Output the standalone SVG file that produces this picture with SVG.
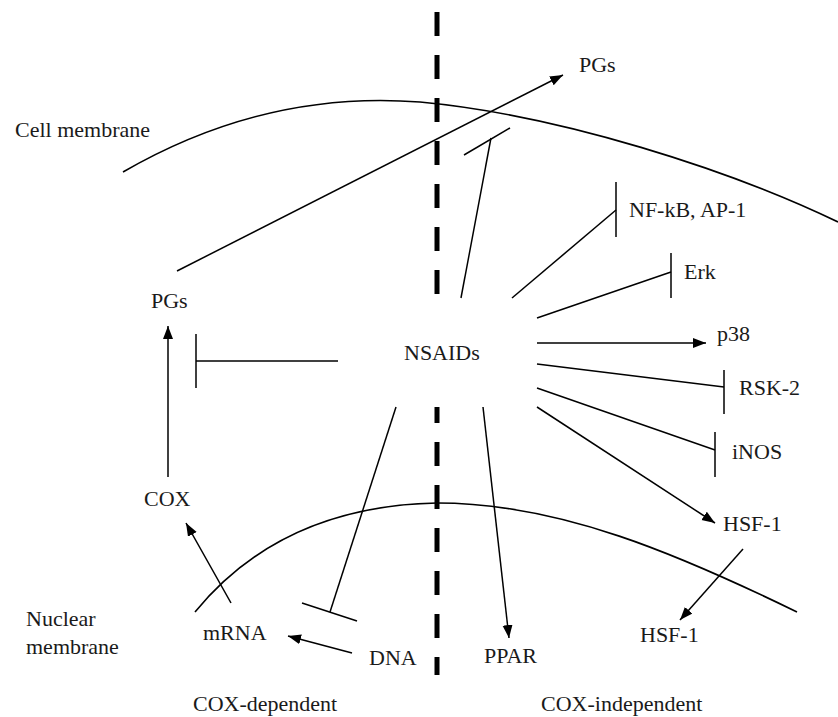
<svg xmlns="http://www.w3.org/2000/svg" width="838" height="717" viewBox="0 0 838 717" font-family="'Liberation Serif', 'Times New Roman', serif">
<style>
  text { font-family: 'Liberation Serif', 'Times New Roman', 'DejaVu Serif', serif; font-size: 22px; fill: #1a1a1a; }
  .ln { stroke: #000; stroke-width: 1.5; fill: none; }
  .mem { stroke: #000; stroke-width: 1.6; fill: none; }
  .arr { marker-end: url(#ah); }
  .div { stroke: #000; stroke-width: 5; stroke-dasharray: 24 19; fill: none; }
</style>
<defs>
  <marker id="ah" markerUnits="userSpaceOnUse" markerWidth="14" markerHeight="11" refX="13" refY="5" orient="auto">
    <path d="M0,0 L13,5 L0,10 z" fill="#000"/>
  </marker>
</defs>
<rect width="838" height="717" fill="#fff"/>

<g id="membranes">
  <path class="mem" d="M123,172 C230,110 330,95 420,102 C560,115 730,170 838,222"/>
  <path class="mem" d="M195,612 C250,545 330,505 437,503 C560,503 680,555 797,612"/>
</g>

<g id="divider">
  <line class="div" x1="437" y1="12" x2="437" y2="295"/>
  <line class="div" x1="437" y1="407" x2="437" y2="675" stroke-dashoffset="8"/>
</g>

<g id="labels">
  <g id="cell-membrane"><text x="15" y="137">Cell membrane</text></g>
  <g id="nuclear-membrane"><text x="26" y="626">Nuclear</text><text x="26" y="654">membrane</text></g>
  <g id="cox-dependent"><text x="193" y="711">COX-dependent</text></g>
  <g id="cox-independent"><text x="541" y="711">COX-independent</text></g>
</g>

<g id="nsaids"><text x="404" y="360">NSAIDs</text></g>
<g id="pgs-out"><text x="579" y="72">PGs</text></g>
<g id="pgs"><text x="151" y="308">PGs</text></g>
<g id="cox"><text x="144" y="506">COX</text></g>
<g id="mrna"><text x="203" y="640">mRNA</text></g>
<g id="dna"><text x="369" y="665">DNA</text></g>
<g id="nfkb"><text x="629" y="217">NF-kB, AP-1</text></g>
<g id="erk"><text x="684" y="279">Erk</text></g>
<g id="p38"><text x="717" y="341">p38</text></g>
<g id="rsk2"><text x="739" y="395">RSK-2</text></g>
<g id="inos"><text x="732" y="459">iNOS</text></g>
<g id="hsf1-cyto"><text x="723" y="531">HSF-1</text></g>
<g id="hsf1-nuc"><text x="640" y="642">HSF-1</text></g>
<g id="ppar"><text x="484" y="663">PPAR</text></g>

<g id="connectors">
  <line class="ln arr" x1="177" y1="271" x2="563" y2="75"/>
  <line class="ln arr" x1="168" y1="477" x2="168" y2="326"/>
  <line class="ln" x1="338" y1="361" x2="196" y2="361"/>
  <line class="ln" x1="196" y1="334" x2="196" y2="388"/>
  <line class="ln arr" x1="231" y1="603" x2="186" y2="523"/>
  <line class="ln arr" x1="352" y1="653" x2="288" y2="636"/>
  <line class="ln" x1="396" y1="407" x2="330" y2="612"/>
  <line class="ln" x1="302" y1="603" x2="357" y2="621"/>
  <line class="ln" x1="461" y1="298" x2="491" y2="138"/>
  <line class="ln" x1="464" y1="155" x2="510" y2="128"/>
  <line class="ln" x1="512" y1="298" x2="616" y2="210"/>
  <line class="ln" x1="616" y1="182" x2="616" y2="237"/>
  <line class="ln" x1="537" y1="318" x2="671" y2="272"/>
  <line class="ln" x1="671" y1="253" x2="671" y2="298"/>
  <line class="ln arr" x1="537" y1="343" x2="706" y2="343"/>
  <line class="ln" x1="537" y1="364" x2="724" y2="387"/>
  <line class="ln" x1="724" y1="370" x2="724" y2="414"/>
  <line class="ln" x1="537" y1="388" x2="715" y2="450"/>
  <line class="ln" x1="715" y1="432" x2="715" y2="477"/>
  <line class="ln arr" x1="537" y1="407" x2="715" y2="523"/>
  <line class="ln arr" x1="743" y1="549" x2="680" y2="620"/>
  <line class="ln arr" x1="483" y1="407" x2="509" y2="638"/>
</g>
</svg>
